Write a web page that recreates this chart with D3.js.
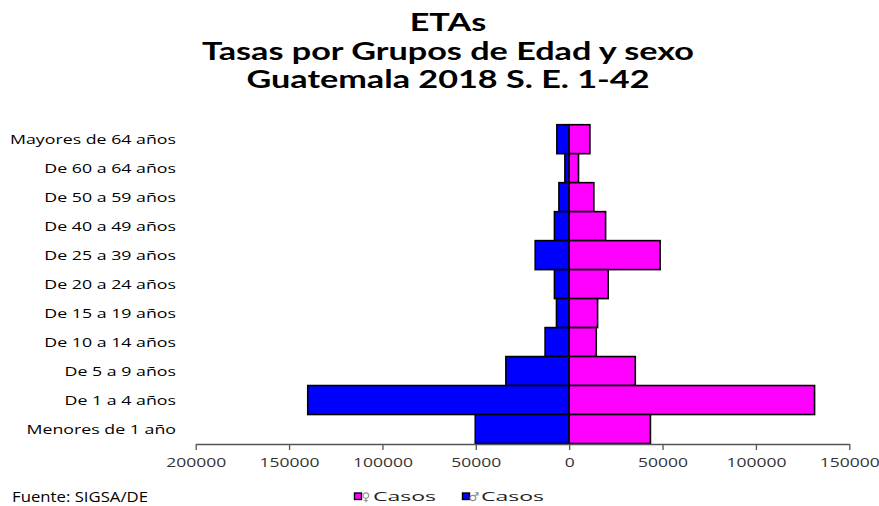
<!DOCTYPE html>
<html>
<head>
<meta charset="utf-8">
<script src="https://cdn.jsdelivr.net/npm/d3@7"></script>
<style>
  body { margin: 0; background: #fff; }
</style>
</head>
<body>
<div id="chart"></div>
<script>
// grupos de edad, de arriba hacia abajo
var grupos = ["Mayores de 64 años", "De 60 a 64 años", "De 50 a 59 años", "De 40 a 49 años",
    "De 25 a 39 años", "De 20 a 24 años", "De 15 a 19 años", "De 10 a 14 años",
    "De 5 a 9 años", "De 1 a 4 años", "Menores de 1 año"];
var mujeres = [11100, 5000, 13200, 19500, 48700, 20900, 15200, 14500, 35400, 131400, 43500];
var hombres = [6600, 2300, 5500, 7900, 18200, 7900, 6800, 12900, 33900, 140000, 50300];
var ticks = [-200000, -150000, -100000, -50000, 0, 50000, 100000, 150000];
var titulo = ["ETAs", "Tasas por Grupos de Edad y sexo", "Guatemala 2018 S. E. 1-42"];

var width = 879,
    height = 506;

var svg = d3.select("#chart").append("svg")
    .attr("width", width)
    .attr("height", height)
    .attr("font-family", "Open Sans, sans-serif")

// la fuente del original es mas ancha, se estira el texto
function stretch(sel, k) {
    sel.each(function () {
        var w = this.getComputedTextLength();
        d3.select(this).attr("textLength", w * k).attr("lengthAdjust", "spacingAndGlyphs");
    })
}
function widthOf(str, size, weight, family) {
    var t = svg.append("text").attr("font-size", size).attr("font-weight", weight || "normal")
        .attr("font-family", family || "Open Sans, sans-serif").text(str);
    var w = t.node().getComputedTextLength();
    t.remove();
    return w;
}

var x = d3.scaleLinear().domain([-200000, 150000]).range([195.7, 849.3]);
var y = d3.scaleBand().domain(grupos).range([124.7, 443.5]).padding(0);

// titulo
var kt = 492 / widthOf(titulo[1], 24, "bold", "Lato");
svg.selectAll(".titulo")
    .data(titulo)
    .enter().append("text")
    .attr("class", "titulo")
    .attr("x", 448)
    .attr("y", function (d, i) { return 31 + i * 28.5 })
    .attr("text-anchor", "middle")
    .attr("font-family", "Lato")
    .attr("font-size", 24)
    .attr("font-weight", "bold")
    .attr("fill", "#000")
    .text(function (d) { return d })
    .call(stretch, kt)

// barras
var filas = grupos.map(function (g, i) {
    return { grupo: g, m: mujeres[i], h: hombres[i] };
});

svg.selectAll(".hombre")
    .data(filas)
    .enter().append("rect")
    .attr("class", "hombre")
    .attr("x", function (d) { return x(-d.h) })
    .attr("y", function (d) { return y(d.grupo) })
    .attr("width", function (d) { return x(0) - x(-d.h) })
    .attr("height", y.bandwidth())
    .attr("fill", "#0000ff")
    .attr("stroke", "#000")
    .attr("stroke-width", 1.6)

svg.selectAll(".mujer")
    .data(filas)
    .enter().append("rect")
    .attr("class", "mujer")
    .attr("x", x(0))
    .attr("y", function (d) { return y(d.grupo) })
    .attr("width", function (d) { return x(d.m) - x(0) })
    .attr("height", y.bandwidth())
    .attr("fill", "#ff00ff")
    .attr("stroke", "#000")
    .attr("stroke-width", 1.6)

// etiquetas de grupos
var kl = 166 / widthOf(grupos[0], 13.5);
svg.selectAll(".grupo")
    .data(grupos)
    .enter().append("text")
    .attr("class", "grupo")
    .attr("x", 176)
    .attr("y", function (d) { return y(d) + y.bandwidth() / 2 })
    .attr("dy", "0.35em")
    .attr("text-anchor", "end")
    .attr("font-size", 13.5)
    .attr("fill", "#000")
    .text(function (d) { return d })
    .call(stretch, kl)

// eje x
var xAxis = d3.axisBottom(x)
    .tickValues(ticks)
    .tickSize(6)
    .tickSizeOuter(0)
    .tickPadding(7)
    .tickFormat(function (d) { return Math.abs(d) });

var gx = svg.append("g")
    .attr("transform", "translate(0,444)")
    .call(xAxis)
gx.select(".domain").attr("stroke", "#555").attr("stroke-width", 1.3)
gx.selectAll(".tick line").attr("stroke", "#555").attr("stroke-width", 1.3)
var kx = 60 / widthOf("200000", 13.5);
gx.selectAll(".tick text")
    .attr("font-size", 13.5)
    .attr("font-family", "Open Sans, sans-serif")
    .attr("fill", "#333")
    .call(stretch, kx)

// leyenda
var leyenda = [
    { simbolo: "♀", color: "#ff00ff", x: 354 },
    { simbolo: "♂", color: "#0000ff", x: 462 }
];
var kg = 63 / widthOf("Casos", 13.5);
var items = svg.selectAll(".leyenda")
    .data(leyenda)
    .enter().append("g")
    .attr("class", "leyenda")
    .attr("transform", function (d) { return "translate(" + d.x + ",496)" })
items.append("rect")
    .attr("x", 0.5).attr("y", -3)
    .attr("width", 7).attr("height", 6.5)
    .attr("fill", function (d) { return d.color })
    .attr("stroke", "#000")
    .attr("stroke-width", 1.4)
items.append("text")
    .attr("x", 12)
    .attr("dy", "0.38em")
    .attr("text-anchor", "middle")
    .attr("font-family", "DejaVu Sans")
    .attr("font-size", 12)
    .attr("fill", "#888")
    .text(function (d) { return d.simbolo })
items.append("text")
    .attr("x", 19)
    .attr("dy", "0.35em")
    .attr("font-size", 13.5)
    .attr("fill", "#222")
    .text("Casos")
    .call(stretch, kg)

svg.append("text")
    .attr("x", 12)
    .attr("y", 502)
    .attr("font-size", 14)
    .attr("fill", "#000")
    .text("Fuente: SIGSA/DE")
    .call(stretch, 136 / widthOf("Fuente: SIGSA/DE", 14))
</script>
</body>
</html>
